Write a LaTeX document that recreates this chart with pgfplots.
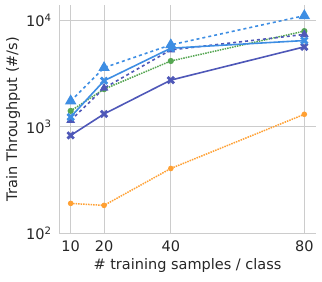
\documentclass[border=0pt]{standalone}
\usepackage{fontspec}
\setmainfont{DejaVu Sans}
\usepackage{pgfplots}
\pgfplotsset{compat=1.18}
\usetikzlibrary{calc}
\definecolor{lblue}{HTML}{3E8EE3}
\definecolor{dblue}{HTML}{4F58B8}
\definecolor{mgreen}{HTML}{55A652}
\definecolor{morange}{HTML}{FFA033}
\definecolor{gridc}{HTML}{CCCCCC}
\begin{document}
\begin{tikzpicture}[font=\fontsize{14.5}{17}\selectfont]
\begin{axis}[
  scale only axis,
  width=257pt, height=228pt,
  ymode=log,
  xmin=6.5, xmax=83.5,
  ymin=100, ymax=14000,
  xtick={10,20,40,80},
  ytick={100,1000,10000},
  yticklabels={10\textsuperscript{2},10\textsuperscript{3},10\textsuperscript{4}},
  minor ytick={},
  /pgf/number format/assume math mode=true,
  xmajorgrids, ymajorgrids,
  grid style={gridc, line width=1pt},
  axis x line*=bottom, axis y line*=left,
  axis line style={gridc, line width=1pt, -},
  major tick length=0pt, minor tick length=0pt,
  xticklabel style={yshift=-4pt},
  yticklabel style={xshift=-4pt},
  xlabel={\# training samples / class},
  ylabel={Train Throughput (\#/s)},
  xlabel style={yshift=0pt},
  ylabel style={yshift=-1pt},
  tick label style={text=black!85},
  label style={text=black!85},
]
\addplot[morange, densely dotted, line width=1.5pt, mark=*, mark size=2pt, mark options={solid}]
  coordinates {(10,190) (20,182) (40,405) (80,1310)};
\addplot[mgreen, densely dotted, line width=1.5pt, mark=*, mark size=2.3pt, mark options={solid}]
  coordinates {(10,1410) (20,2260) (40,4160) (80,7950)};
\addplot[dblue, dashed, line width=1.6pt, mark=triangle*, mark size=3.5pt, mark options={solid}]
  coordinates {(10,1150) (20,2310) (40,5290) (80,7400)};
\addplot[dblue, solid, line width=1.6pt, mark=x, mark size=4.5pt, mark options={solid, line width=2.8pt}]
  coordinates {(10,829) (20,1320) (40,2750) (80,5650)};
\addplot[lblue, solid, line width=1.6pt, mark=x, mark size=4.5pt, mark options={solid, line width=2.8pt}]
  coordinates {(10,1236) (20,2710) (40,5490) (80,6480)};
\addplot[lblue, dashed, line width=1.6pt, mark=triangle*, mark size=5pt, mark options={solid}]
  coordinates {(10,1750) (20,3600) (40,5900) (80,11100)};
\coordinate (ll) at (rel axis cs:0,0);
\coordinate (ur) at (rel axis cs:1,1);
\end{axis}
\pgfresetboundingbox
\path ($(ll)+(-59pt,-48pt)$) rectangle ($(ur)+(6pt,5pt)$);
\end{tikzpicture}
\end{document}
